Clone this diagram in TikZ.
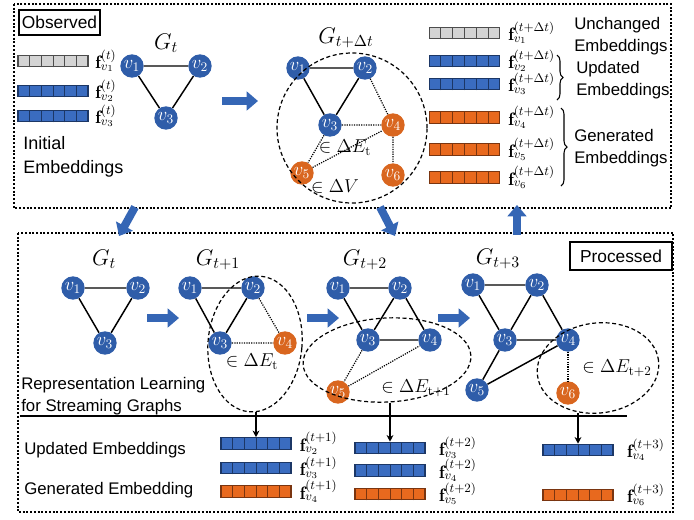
\RequirePackage{fix-cm}
\documentclass[tikz,border=0pt]{standalone}
\usepackage{fontspec}
\usetikzlibrary{shapes.geometric,arrows.meta,decorations.pathreplacing,calc}
\newfontfamily\labfont{Liberation Sans}

\definecolor{nodeblue}{HTML}{2F5DA9}
\definecolor{nodeorange}{HTML}{D9661F}
\definecolor{barblue}{HTML}{3A6CC0}
\definecolor{bluedraw}{HTML}{1C3766}
\definecolor{barorange}{HTML}{E8691E}
\definecolor{orangedraw}{HTML}{7A3510}
\definecolor{grayfill}{HTML}{D4D4D4}
\definecolor{graydraw}{HTML}{4D4D4D}
\definecolor{arrowblue}{HTML}{3566B5}

\tikzset{
  vb/.style={circle, fill=nodeblue, inner sep=0pt, minimum size=17.5pt,
             text=white, font=\fontsize{14}{14}\selectfont},
  vo/.style={vb, fill=nodeorange},
  edge/.style={line width=1.1pt},
  newedge/.style={line width=0.9pt, dash pattern=on 0.9pt off 0.9pt},
  region/.style={draw, ellipse, inner sep=0pt, line width=0.9pt, dash pattern=on 3pt off 2pt},
  panel/.style={draw, line width=1.6pt, dash pattern=on 1.5pt off 1.3pt},
  bigarrow/.style={draw=arrowblue, line width=6pt, -{Triangle[length=8.5pt,width=14pt]}},
  downarrow/.style={line width=1pt, -{Stealth[length=5pt,width=5pt]}},
  emb/.style={rectangle, minimum width=52.5pt, minimum height=8.6pt, inner sep=0pt, line width=0.8pt},
  tag/.style={draw, line width=1pt, inner sep=1pt, font=\labfont\fontsize{13}{15}\selectfont},
  txt/.style={anchor=west, align=left, inner sep=0pt, font=\labfont\fontsize{12.6}{16.5}\selectfont},
  txtbig/.style={txt, font=\labfont\fontsize{13.5}{18.5}\selectfont},
  gl/.style={font=\fontsize{17}{17}\selectfont, inner sep=0pt},
  flab/.style={anchor=west, inner sep=0pt, font=\fontsize{13.5}{13.5}\selectfont},
  dlab/.style={inner sep=0pt, font=\fontsize{14}{14}\selectfont},
}

% embedding symbol with tight super- and subscript
\newcommand\femb[2]{\mathbf{f}^{\raisebox{-1pt}{$\scriptstyle(#1)$}}_{\raisebox{1.5pt}{$\scriptstyle #2$}}}

% embedding vector of six cells: name, centre, fill, border
\newcommand\embbar[4]{%
  \node[emb, fill=#3, draw=#4] (#1) at (#2) {};
  \foreach \k in {1,...,5}{
    \draw[#4, line width=0.6pt] ($(#1.south west)!\k/6!(#1.south east)$) -- ($(#1.north west)!\k/6!(#1.north east)$);
  }%
}

\begin{document}
\begin{tikzpicture}[x=0.75pt,y=-0.75pt]
\useasboundingbox (0,0) rectangle (694,519);

% panels
\draw[panel] (14,4) rectangle (671,208);
\draw[panel] (18,233) rectangle (673,512);
\node[tag, minimum width=60.75pt, minimum height=18.75pt] (obs) at (59.5,22.5) {Observed};
\node[tag, minimum width=76.5pt, minimum height=21pt] (proc) at (621,256) {Processed};

% ---------- observed panel ----------
\embbar{i1}{53,61}{grayfill}{graydraw}
\embbar{i2}{53,91}{barblue}{bluedraw}
\embbar{i3}{53,116}{barblue}{bluedraw}
\node[flab] (li1) at ([xshift=5pt]i1.east) {$\femb{t}{v_1}$};
\node[flab] (li2) at ([xshift=5pt]i2.east) {$\femb{t}{v_2}$};
\node[flab] (li3) at ([xshift=5pt]i3.east) {$\femb{t}{v_3}$};
\node[txtbig] (init) at (23,157) {Initial\\Embeddings};

\node[gl] (g0) at (166,43) {$G_t$};
\node[vb] (a1) at (132,66) {$v_1$};
\node[vb] (a2) at (200,66) {$v_2$};
\node[vb] (a3) at (166,118) {$v_3$};
\draw[edge] (a1) -- (a2) (a1) -- (a3) (a2) -- (a3);

\coordinate (ta0) at (222,101);
\coordinate (ta1) at (258,101);
\draw[bigarrow] (ta0) -- (ta1);

\node[gl] (gd) at (346,38) {$G_{t+\Delta t}$};
\node[vb] (b1) at (298,68) {$v_1$};
\node[vb] (b2) at (365,68) {$v_2$};
\node[vb] (b3) at (330,125) {$v_3$};
\node[vo] (b4) at (393,125) {$v_4$};
\node[vo] (b5) at (302,173) {$v_5$};
\node[vo] (b6) at (393,175) {$v_6$};
\draw[edge] (b1) -- (b2) (b1) -- (b3) (b2) -- (b3);
\draw[newedge] (b2) -- (b4) (b3) -- (b4) (b3) -- (b5) (b5) -- (b4) (b4) -- (b6);
\node[region, circle, minimum size=112.5pt] (dc) at (352,128) {};
\node[dlab] (de) at (345,148) {$\in\Delta E_{\mathrm{t}}$};
\node[dlab] (dv) at (335,186) {$\in\Delta V$};

\embbar{o1}{464.5,33}{grayfill}{graydraw}
\embbar{o2}{464.5,61}{barblue}{bluedraw}
\embbar{o3}{464.5,84}{barblue}{bluedraw}
\embbar{o4}{464.5,117.5}{barorange}{orangedraw}
\embbar{o5}{464.5,149.5}{barorange}{orangedraw}
\embbar{o6}{464.5,177.5}{barorange}{orangedraw}
\node[flab] (lo1) at ([xshift=6pt]o1.east) {$\femb{t+\Delta t}{v_1}$};
\node[flab] (lo2) at ([xshift=6pt]o2.east) {$\femb{t+\Delta t}{v_2}$};
\node[flab] (lo3) at ([xshift=6pt]o3.east) {$\femb{t+\Delta t}{v_3}$};
\node[flab] (lo4) at ([xshift=6pt]o4.east) {$\femb{t+\Delta t}{v_4}$};
\node[flab] (lo5) at ([xshift=6pt]o5.east) {$\femb{t+\Delta t}{v_5}$};
\node[flab] (lo6) at ([xshift=6pt]o6.east) {$\femb{t+\Delta t}{v_6}$};

\draw[decorate, decoration={brace, amplitude=4.5pt}, line width=0.8pt] (557,55) -- (557,100);
\draw[decorate, decoration={brace, amplitude=4.5pt}, line width=0.8pt] (561,108) -- (561,186);
\node[txt] (tu) at (574,36) {Unchanged\\Embeddings};
\node[txt] (tp) at (576,80) {Updated\\Embeddings};
\node[txt] (tg) at (574,148) {Generated\\Embeddings};

% ---------- arrows between the panels ----------
\coordinate (x0) at (135,207);
\coordinate (x1) at (119,236);
\coordinate (y0) at (380,207);
\coordinate (y1) at (395,236);
\coordinate (z0) at (517,235);
\coordinate (z1) at (517,205);
\draw[bigarrow] (x0) -- (x1);
\draw[bigarrow] (y0) -- (y1);
\draw[bigarrow] (z0) -- (z1);

% ---------- processed panel ----------
\node[gl] (h0) at (104,259) {$G_t$};
\node[vb] (c1) at (73,288) {$v_1$};
\node[vb] (c2) at (138,288) {$v_2$};
\node[vb] (c3) at (105,343) {$v_3$};
\draw[edge] (c1) -- (c2) (c1) -- (c3) (c2) -- (c3);

\coordinate (s0) at (147,318);
\coordinate (s1) at (179,318);
\draw[bigarrow] (s0) -- (s1);

\node[gl] (h1) at (218,260) {$G_{t+1}$};
\node[vb] (d1) at (190,288) {$v_1$};
\node[vb] (d2) at (253,288) {$v_2$};
\node[vb] (d3) at (220,343) {$v_3$};
\node[vo] (d4) at (285,343) {$v_4$};
\draw[edge] (d1) -- (d2) (d1) -- (d3) (d2) -- (d3);
\draw[newedge] (d2) -- (d4) (d3) -- (d4);
\node[region, minimum width=70.5pt, minimum height=102pt, rotate=-5] (e1) at (255,344) {};
\node[dlab] (l1) at (252,362) {$\in\Delta E_{\mathrm{t}}$};

\coordinate (s2) at (307,318);
\coordinate (s3) at (339,318);
\draw[bigarrow] (s2) -- (s3);

\node[gl] (h2) at (365,260) {$G_{t+2}$};
\node[vb] (f1) at (338,288) {$v_1$};
\node[vb] (f2) at (400,288) {$v_2$};
\node[vb] (f3) at (368,340) {$v_3$};
\node[vb] (f4) at (430,340) {$v_4$};
\node[vo] (f5) at (338,392) {$v_5$};
\draw[edge] (f1) -- (f2) (f1) -- (f3) (f2) -- (f3) (f2) -- (f4) (f3) -- (f4);
\draw[newedge] (f3) -- (f5) (f5) -- (f4);
\node[region, minimum width=126pt, minimum height=63pt, rotate=3] (e2) at (387,360) {};
\node[dlab] (l2) at (416,388) {$\in\Delta E_{\mathrm{t+1}}$};

\coordinate (s4) at (438,318);
\coordinate (s5) at (470,318);
\draw[bigarrow] (s4) -- (s5);

\node[gl] (h3) at (498,259) {$G_{t+3}$};
\node[vb] (k1) at (473,285) {$v_1$};
\node[vb] (k2) at (537,285) {$v_2$};
\node[vb] (k3) at (505,340) {$v_3$};
\node[vb] (k4) at (568,340) {$v_4$};
\node[vb] (k5) at (477,390) {$v_5$};
\node[vo] (k6) at (568,393) {$v_6$};
\draw[edge] (k1) -- (k2) (k1) -- (k3) (k2) -- (k3) (k2) -- (k4) (k3) -- (k4) (k3) -- (k5) (k5) -- (k4);
\draw[newedge] (k4) -- (k6);
\node[region, minimum width=91.5pt, minimum height=67.5pt, rotate=7] (e3) at (598,368) {};
\node[dlab] (l3) at (617,368) {$\in\Delta E_{\mathrm{t+2}}$};

\node[txt] (rl) at (21,396) {Representation Learning\\for Streaming Graphs};
\draw[line width=0.9pt] (20,416) -- (627,416);

\node[txt] (ue) at (24,450) {Updated Embeddings};
\node[txt] (ge) at (24,490) {Generated Embedding};

\embbar{p1}{256,443.5}{barblue}{bluedraw}
\embbar{p2}{256,468}{barblue}{bluedraw}
\embbar{p3}{256,491.5}{barorange}{orangedraw}
\node[flab] (lp1) at ([xshift=6pt]p1.east) {$\femb{t+1}{v_2}$};
\node[flab] (lp2) at ([xshift=6pt]p2.east) {$\femb{t+1}{v_3}$};
\node[flab] (lp3) at ([xshift=6pt]p3.east) {$\femb{t+1}{v_4}$};

\embbar{q1}{390,448}{barblue}{bluedraw}
\embbar{q2}{390,470.5}{barblue}{bluedraw}
\embbar{q3}{390,494}{barorange}{orangedraw}
\node[flab] (lq1) at ([xshift=10pt]q1.east) {$\femb{t+2}{v_3}$};
\node[flab] (lq2) at ([xshift=10pt]q2.east) {$\femb{t+2}{v_4}$};
\node[flab] (lq3) at ([xshift=10pt]q3.east) {$\femb{t+2}{v_5}$};

\embbar{r1}{578,450}{barblue}{bluedraw}
\embbar{r2}{578,495}{barorange}{orangedraw}
\node[flab] (lr1) at ([xshift=10pt]r1.east) {$\femb{t+3}{v_4}$};
\node[flab] (lr2) at ([xshift=10pt]r2.east) {$\femb{t+3}{v_6}$};

\draw[downarrow] (e1.south -| p1.north) -- (p1.north);
\draw[downarrow] (e2.south -| q1.north) -- (q1.north);
\draw[downarrow] (e3.south -| r1.north) -- (r1.north);
\end{tikzpicture}
\end{document}
